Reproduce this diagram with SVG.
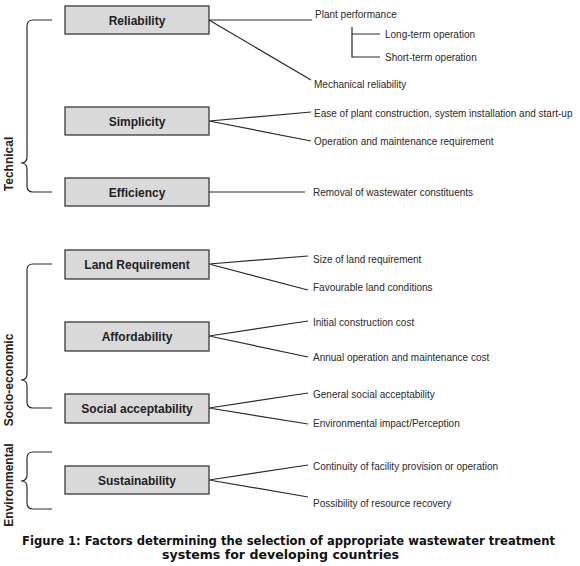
<svg xmlns="http://www.w3.org/2000/svg" width="580" height="566" viewBox="0 0 580 566">
<style>
.box{fill:#d9d9d9;stroke:#3a3a3a;stroke-width:1.3}
.bl{font-family:"Liberation Sans",Arial,sans-serif;font-weight:bold;font-size:12px;fill:#222;text-anchor:middle}
.t{font-family:"Liberation Sans",Arial,sans-serif;font-size:10px;fill:#2a2a2a}
.side{font-family:"Liberation Sans",Arial,sans-serif;font-weight:bold;font-size:12px;fill:#222;text-anchor:middle}
.ln{fill:none;stroke:#2a2a2a;stroke-width:1.2}
.cap{font-family:"DejaVu Sans Condensed","DejaVu Sans",sans-serif;font-stretch:condensed;font-weight:bold;font-size:12.5px;fill:#111;text-anchor:middle}
</style>
<rect width="580" height="566" fill="#fff"/>
<g id="connectors" class="ln">
<path d="M209,20 H312"/>
<path d="M209,20 L311,80"/>
<path d="M352,27 V57 H380 M352,34 H380"/>
<path d="M209,121 L311,112 M209,121 L311,141"/>
<path d="M209,192 H305"/>
<path d="M209,264 L308,256 M209,264 L308,290"/>
<path d="M209,336 L308,321 M209,336 L308,357"/>
<path d="M209,408 L308,393 M209,408 L308,424"/>
<path d="M209,480 L308,465 M209,480 L308,497"/>
</g>
<g id="brace-technical">
<path class="ln" d="M52,20 H33 Q27,20 27,26 V157 Q27,163 21,163 Q27,163 27,169 V186 Q27,192 33,192 H52"/>
<text class="side" transform="translate(13,164) rotate(-90)">Technical</text>
</g>
<g id="brace-socio">
<path class="ln" d="M52,264 H33 Q27,264 27,270 V374 Q27,380 21,380 Q27,380 27,386 V402 Q27,408 33,408 H52"/>
<text class="side" transform="translate(13,380) rotate(-90)">Socio-economic</text>
</g>
<g id="brace-environmental">
<path class="ln" d="M52,452 H33 Q27,452 27,458 V475 Q27,481 21,481 Q27,481 27,487 V503 Q27,509 33,509 H52"/>
<text class="side" transform="translate(13,485) rotate(-90)">Environmental</text>
</g>
<g id="reliability">
<rect class="box" x="65" y="6" width="144" height="28"/>
<text class="bl" x="137" y="24.5">Reliability</text>
<text class="t" x="315" y="18">Plant performance</text>
<text class="t" x="385" y="37.5">Long-term operation</text>
<text class="t" x="385" y="60.5">Short-term operation</text>
<text class="t" x="314" y="87.5">Mechanical reliability</text>
</g>
<g id="simplicity">
<rect class="box" x="65" y="107" width="144" height="28"/>
<text class="bl" x="137" y="125.5">Simplicity</text>
<text class="t" x="314" y="117">Ease of plant construction, system installation and start-up</text>
<text class="t" x="314" y="144.5">Operation and maintenance requirement</text>
</g>
<g id="efficiency">
<rect class="box" x="65" y="178" width="144" height="28"/>
<text class="bl" x="137" y="196.5">Efficiency</text>
<text class="t" x="313" y="195.5">Removal of wastewater constituents</text>
</g>
<g id="land">
<rect class="box" x="65" y="250" width="144" height="29"/>
<text class="bl" x="137" y="268.5">Land Requirement</text>
<text class="t" x="313" y="262.5">Size of land requirement</text>
<text class="t" x="313" y="290.5">Favourable land conditions</text>
</g>
<g id="affordability">
<rect class="box" x="65" y="322" width="144" height="29"/>
<text class="bl" x="137" y="340.5">Affordability</text>
<text class="t" x="313" y="325.5">Initial construction cost</text>
<text class="t" x="313" y="360.5">Annual operation and maintenance cost</text>
</g>
<g id="social">
<rect class="box" x="65" y="394" width="144" height="29"/>
<text class="bl" x="137" y="412.5">Social acceptability</text>
<text class="t" x="313" y="397.5">General social acceptability</text>
<text class="t" x="313" y="426.5">Environmental impact/Perception</text>
</g>
<g id="sustainability">
<rect class="box" x="65" y="466" width="144" height="28"/>
<text class="bl" x="137" y="484.5">Sustainability</text>
<text class="t" x="313" y="469.5">Continuity of facility provision or operation</text>
<text class="t" x="313" y="506.5">Possibility of resource recovery</text>
</g>
<g id="caption">
<text class="cap" x="288.5" y="545" textLength="533" lengthAdjust="spacingAndGlyphs">Figure 1: Factors determining the selection of appropriate wastewater treatment</text>
<text class="cap" x="280.5" y="559" textLength="237" lengthAdjust="spacingAndGlyphs">systems for developing countries</text>
</g>
</svg>
